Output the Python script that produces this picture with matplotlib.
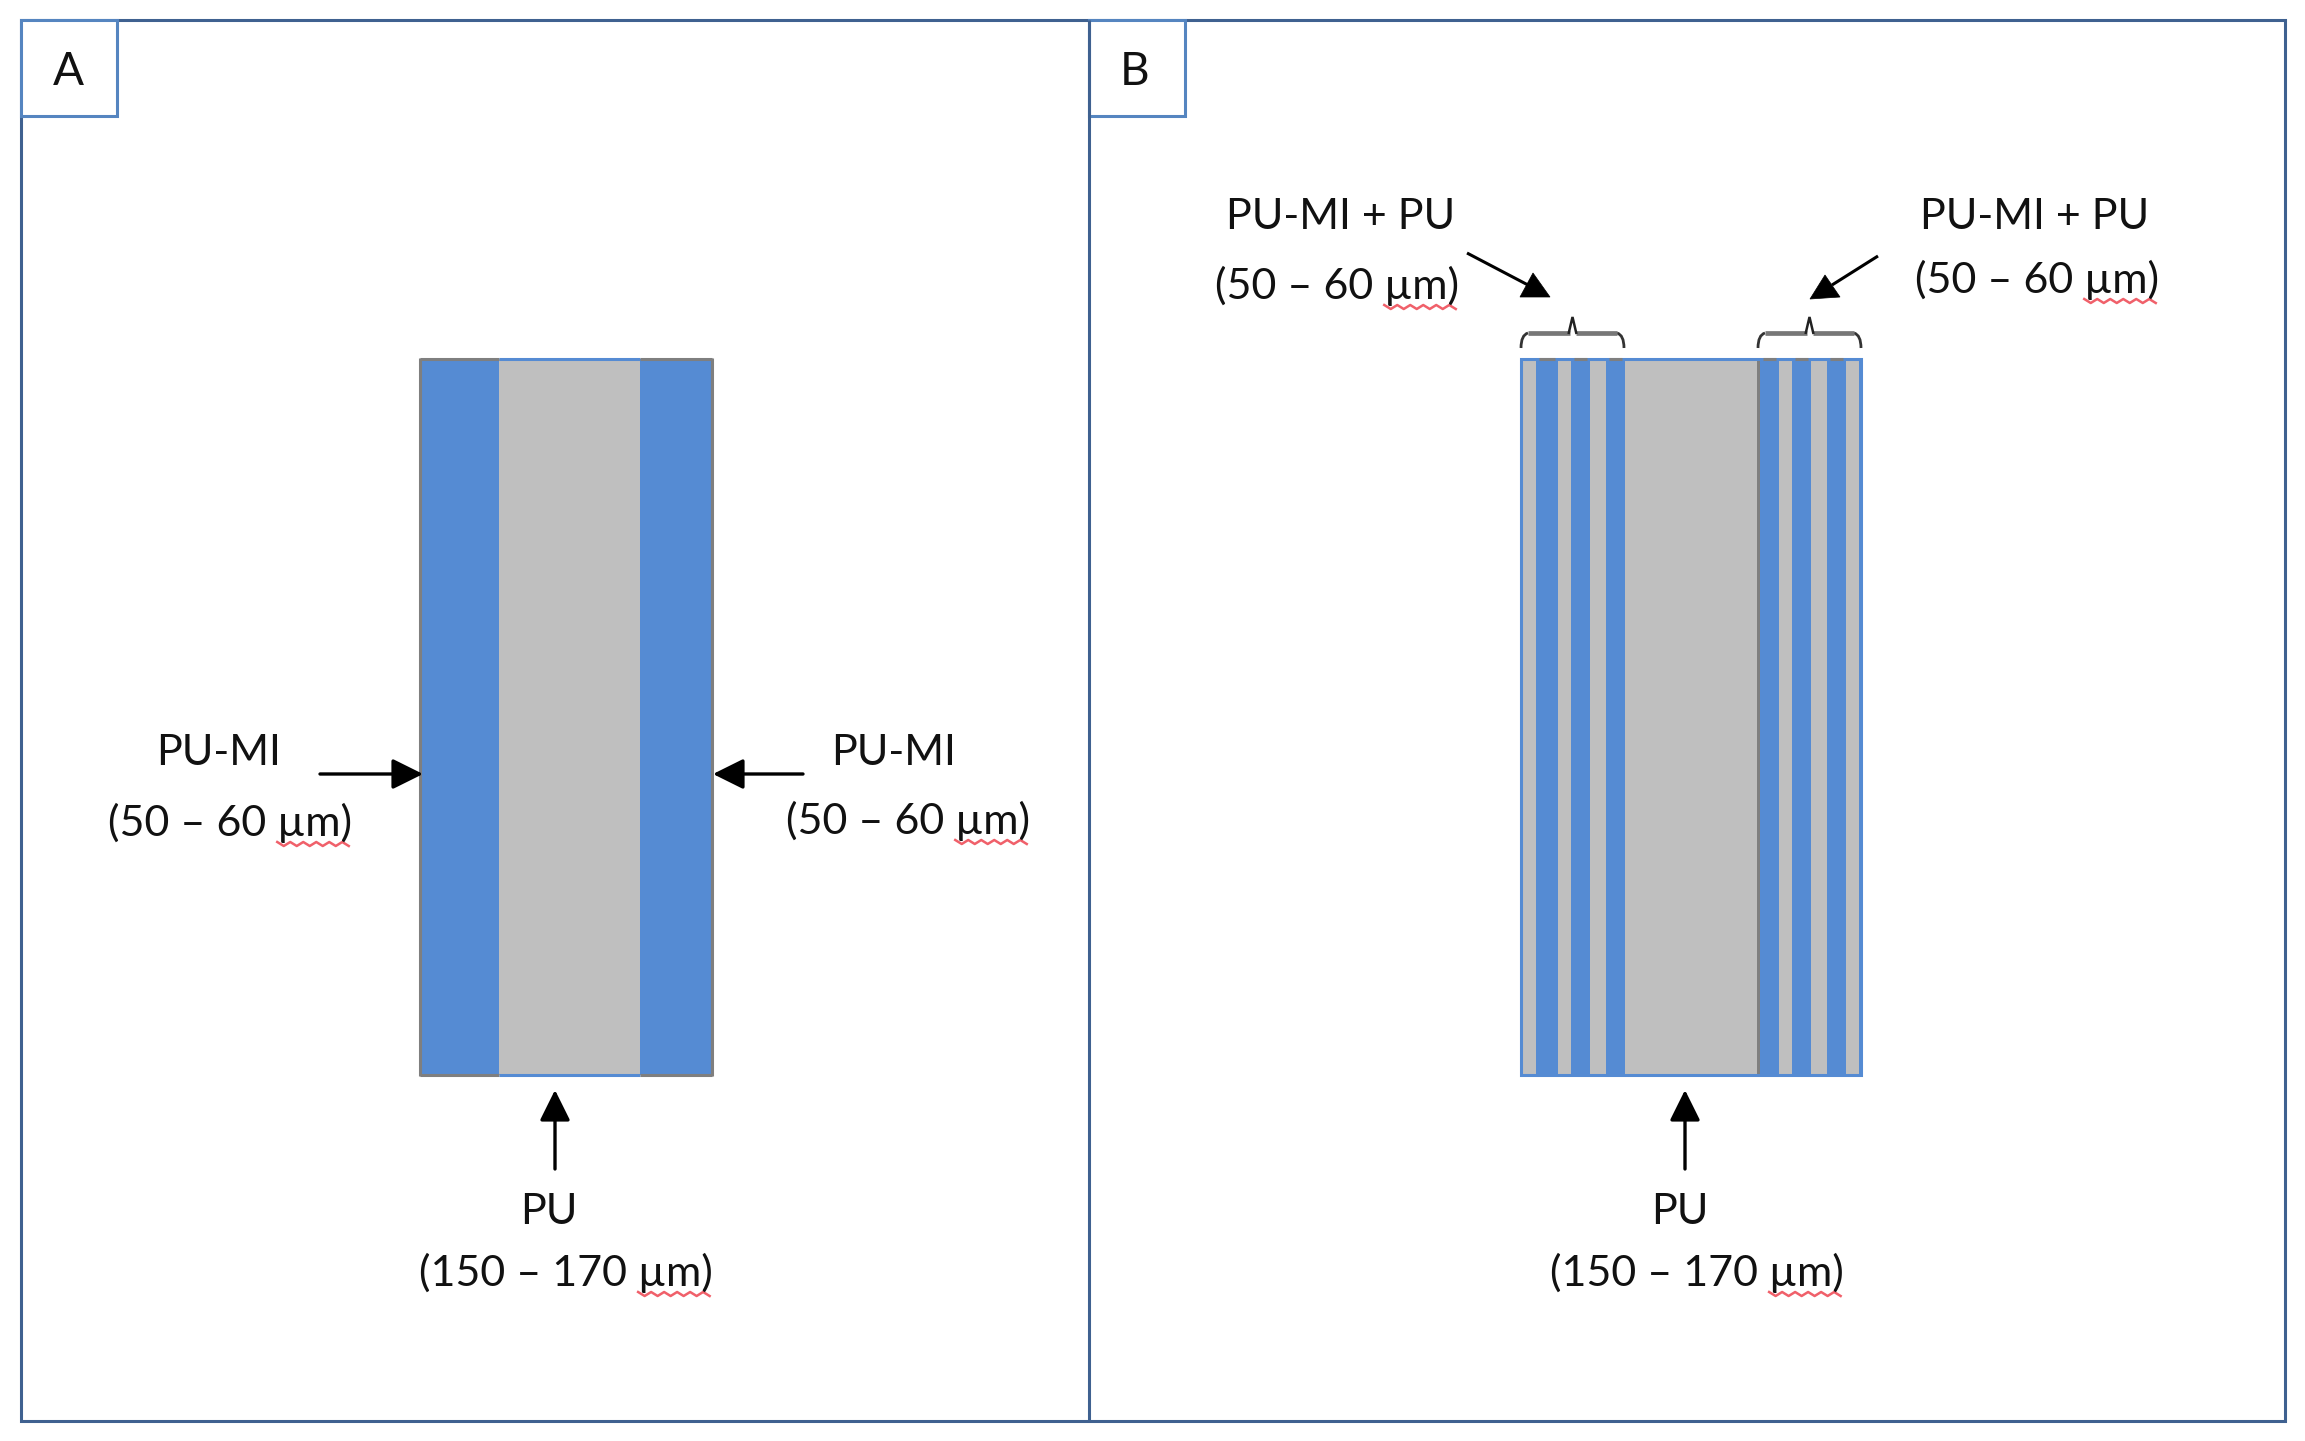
import numpy as np
import matplotlib
matplotlib.use("Agg")
import matplotlib.pyplot as plt
from matplotlib.patches import Rectangle, Polygon, FancyArrowPatch
from matplotlib.path import Path
from matplotlib.patches import PathPatch

plt.rcParams['font.family'] = ['Lato', 'DejaVu Sans']

# layer thicknesses as drawn (left to right)
layers_a = [79, 141, 72]
kinds_a = ['mi', 'pu', 'mi']
layers_b = [15, 22, 13, 19, 16, 19, 132, 3, 19, 13, 19, 16, 19, 13, 2]
kinds_b = ['pu', 'mi', 'pu', 'mi', 'pu', 'mi', 'pu', 'edge', 'mi', 'pu', 'mi', 'pu', 'mi', 'pu', 'mi']

BLUE = '#558BD3'
GRAY = '#BFBFBF'
DARK = '#7F7F7F'
FRAME = '#3F6190'
BOX = '#5585C0'
fills = {'mi': BLUE, 'pu': GRAY, 'edge': DARK}

label_panels = ['A', 'B']
pu_mi = 'PU-MI'
pu_mi_pu = 'PU-MI + PU'
pu = 'PU'
thin = '(50 – 60 ', 'µm', ')'
thick = '(150 – 170 '

fig = plt.figure(figsize=(23.05, 14.41), dpi=100)
ax = fig.add_axes([0, 0, 1, 1])
ax.set_xlim(0, 2305)
ax.set_ylim(1441, 0)
ax.axis('off')

FS = 31


def rect(x0, y0, x1, y1, fc='none', ec='none', lw=0, z=1):
    ax.add_patch(Rectangle((x0, y0), x1 - x0, y1 - y0, fc=fc, ec=ec, lw=lw, zorder=z))


def line(xs, ys, color='black', lw=2.2, z=3):
    ax.plot(xs, ys, color=color, lw=lw, zorder=z, solid_capstyle='butt', solid_joinstyle='miter')


# frames
rect(21, 20, 2285, 1421, ec=FRAME, lw=2.2)
line([1089, 1089], [20, 1421], color=FRAME)
rect(21, 20, 117, 116, fc='white', ec=BOX, lw=2.2, z=2)
rect(1089, 20, 1185, 116, fc='white', ec=BOX, lw=2.2, z=2)
ax.text(68, 85, label_panels[0], fontsize=33, ha='center', va='baseline', color='#111111', zorder=4)
ax.text(1135, 85, label_panels[1], fontsize=33, ha='center', va='baseline', color='#111111', zorder=4)

# stack A
TOP, BOT = 359, 1075
x = 420
for w, k in zip(layers_a, kinds_a):
    rect(x, TOP, x + w, BOT, fc=fills[k], z=1)
    c = DARK if k == 'mi' else BLUE
    line([x, x + w], [TOP, TOP], color=c)
    line([x, x + w], [BOT, BOT], color=c)
    x += w
line([420, 420], [TOP - 1, BOT + 1], color=DARK)
line([712, 712], [TOP - 1, BOT + 1], color=DARK)

# stack B
x = 1521
starts = []
for w, k in zip(layers_b, kinds_b):
    rect(x, TOP, x + w, BOT, fc=fills[k], z=1)
    starts.append(x)
    x += w
rect(1521, TOP, 1861, BOT, ec=BLUE, lw=2.2, z=2)
for s, w, k in zip(starts, layers_b, kinds_b):
    if k == 'mi' and w > 10:
        line([s + 3, s + w - 3], [TOP, TOP], color=DARK, z=3)


# braces
def brace(x0, x1):
    mid = (x0 + x1) / 2
    codes = [Path.MOVETO, Path.CURVE3, Path.CURVE3]
    for end, sgn in ((x0, 1), (x1, -1)):
        verts = [(end, 348), (end, 335), (end + sgn * 7, 333)]
        ax.add_patch(PathPatch(Path(verts, codes), fc='none', ec='#333333', lw=2.0, zorder=3))
        line([end + sgn * 7, mid - sgn * 3], [333, 333], color='#777777', lw=3.4)
    line([mid - 4, mid, mid + 4], [334, 317, 334], color='#222222', lw=1.8)


brace(1521, 1624)
brace(1758, 1861)


# arrows
def arrow(p0, p1):
    ax.add_patch(FancyArrowPatch(p0, p1, arrowstyle='-|>,head_length=1.45,head_width=0.72',
                                 mutation_scale=13, lw=2.4, color='black',
                                 shrinkA=0, shrinkB=0, zorder=4))


arrow((320, 774), (423, 774))
arrow((803, 774), (713, 774))
arrow((555, 1169), (555, 1090))
arrow((1685, 1169), (1685, 1090))

line([1467, 1528], [253, 285], lw=2.2)
ax.add_patch(Polygon([(1520, 297), (1550, 297), (1533, 273)], fc='black', ec='black', lw=0.5, zorder=4))
line([1878, 1832], [256, 285], lw=2.2)
ax.add_patch(Polygon([(1810, 299), (1840, 297), (1825, 275)], fc='black', ec='black', lw=0.5, zorder=4))


# texts
def wavy(x0, x1, y):
    xs = np.arange(x0, x1 + 1, 6.5)
    ys = y + np.where(np.arange(len(xs)) % 2 == 0, -2, 2)
    ax.plot(xs, ys, color='#F0606A', lw=1.8, zorder=3)


def range_label(cx, y, head):
    txt = ax.text(cx, y, head + thin[1] + thin[2], fontsize=FS, ha='center', va='baseline',
                  color='#111111', zorder=4)
    fig.canvas.draw()
    bb = txt.get_window_extent()
    right = bb.x1
    wu = ax.text(0, 0, thin[1] + thin[2], fontsize=FS)
    left = right - wu.get_window_extent().width
    wu.remove()
    wavy(left, right, y + 8)


def name(cx, y, s):
    ax.text(cx, y, s, fontsize=FS, ha='center', va='baseline', color='#111111', zorder=4)


name(219, 765, pu_mi)
range_label(230, 836, thin[0])
name(894, 765, pu_mi)
range_label(908, 834, thin[0])
name(549, 1224, pu)
range_label(566, 1286, thick)
name(1680, 1224, pu)
range_label(1697, 1286, thick)
name(1341, 229, pu_mi_pu)
range_label(1337, 299, thin[0])
name(2035, 229, pu_mi_pu)
range_label(2037, 293, thin[0])

fig.savefig('out.png', dpi=100, facecolor='white')
